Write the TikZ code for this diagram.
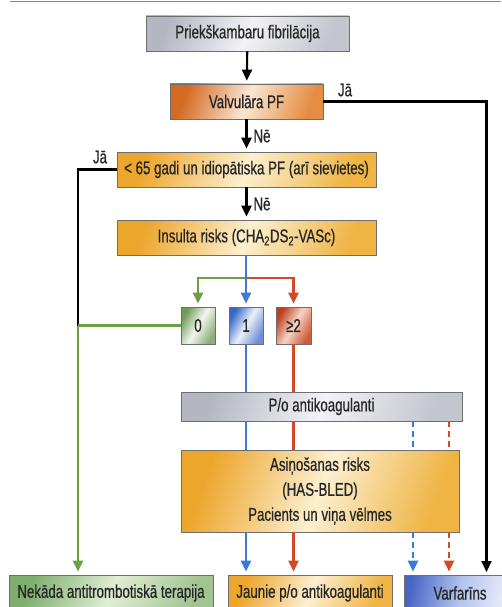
\documentclass[tikz,border=0pt]{standalone}
\usepackage{fontspec}
\setmainfont{Liberation Sans}[FakeStretch=0.72,FakeBold=0.6]
\usetikzlibrary{arrows.meta}
\definecolor{lnblue}{HTML}{3A7AD8}
\definecolor{lnred}{HTML}{D24A2A}
\definecolor{lngreen}{HTML}{6E9E46}
\definecolor{bdr}{HTML}{6E6E6E}
\definecolor{gyA}{HTML}{B4B7C2}\definecolor{gyB}{HTML}{F2F2F6}\definecolor{gyC}{HTML}{C4C6CE}
\definecolor{orA}{HTML}{D46A22}\definecolor{orB}{HTML}{FAE6D2}\definecolor{orC}{HTML}{E48E44}
\definecolor{yeA}{HTML}{EDA62C}\definecolor{yeB}{HTML}{FCEFD0}\definecolor{yeC}{HTML}{EFB444}
\definecolor{grA}{HTML}{6F9A58}\definecolor{grB}{HTML}{F2F6EE}\definecolor{grC}{HTML}{8EAE7C}
\definecolor{blA}{HTML}{3666C6}\definecolor{blB}{HTML}{EAF0FA}\definecolor{blC}{HTML}{6E8ED8}
\definecolor{rdA}{HTML}{BE3E1E}\definecolor{rdB}{HTML}{F6D4C4}\definecolor{rdC}{HTML}{CE5C3C}
\definecolor{lgA}{HTML}{7EAE6E}\definecolor{lgB}{HTML}{E0EED4}\definecolor{lgC}{HTML}{A2C492}
\definecolor{vbA}{HTML}{4866C6}\definecolor{vbB}{HTML}{B4C4EE}\definecolor{vbC}{HTML}{EEF0FA}
\begin{document}
\begin{tikzpicture}[x=1pt,y=-1pt,
  font=\fontsize{18.5}{22}\selectfont,
  box/.style={draw=bdr, line width=0.7pt, inner sep=0pt, align=center, text=black!85},
  graybox/.style={box, left color=gyA, right color=gyC, middle color=gyB, shading angle=70},
  orbox/.style={box, left color=orA, right color=orC, middle color=orB, shading angle=70},
  yebox/.style={box, left color=yeA, right color=yeC, middle color=yeB, shading angle=70},
  grbox/.style={box, left color=grA, right color=grC, middle color=grB, shading angle=60},
  blbox/.style={box, left color=blA, right color=blC, middle color=blB, shading angle=60},
  rdbox/.style={box, left color=rdA, right color=rdC, middle color=rdB, shading angle=60},
  lgbox/.style={box, left color=lgA, right color=lgC, middle color=lgB, shading angle=70},
  vbbox/.style={box, left color=vbA, right color=vbC, middle color=vbB, shading angle=80},
  lbl/.style={inner sep=0pt, text=black!85},
  conn/.style={line width=2.1pt},
  arr/.style={conn, -{Triangle[length=11pt,width=10pt]}, shorten >=3pt},
  dsh/.style={dash pattern=on 6pt off 4pt}
]
\useasboundingbox (0,0) rectangle (501,607);
\draw[black!45, line width=1pt] (10,1.5) -- (501,1.5);

% nodes
\node[graybox, minimum width=203pt, minimum height=35pt] (n1) at (247.5,33.5) {Priekškambaru fibrilācija};
\node[orbox, minimum width=153pt, minimum height=35pt] (n2) at (246.5,101.5) {Valvulāra PF};
\node[yebox, minimum width=259pt, minimum height=35pt] (n3) at (246.5,169.5) {< 65 gadi un idiopātiska PF (arī sievietes)};
\node[yebox, minimum width=259pt, minimum height=35pt] (n4) at (246.5,237.5) {Insulta risks (CHA\textsubscript{2}DS\textsubscript{2}-VASc)};
\node[grbox, minimum width=34pt, minimum height=37pt] (b0) at (198,325.5) {0};
\node[blbox, minimum width=34pt, minimum height=37pt] (b1) at (246,325.5) {1};
\node[rdbox, minimum width=35pt, minimum height=37pt] (b2) at (293.5,325.5) {≥2};
\node[graybox, minimum width=281pt, minimum height=29pt] (po) at (321.5,406.5) {P/o antikoagulanti};
\node[yebox, minimum width=278pt, minimum height=82pt] (as) at (320,491) {Asiņošanas risks\\[3pt](HAS-BLED)\\[3pt]Pacients un viņa vēlmes};
\node[lgbox, minimum width=204pt, minimum height=36pt] (nek) at (111,593) {Nekāda antitrombotiskā terapija};
\node[yebox, minimum width=164pt, minimum height=36pt] (jau) at (310,593) {Jaunie p/o antikoagulanti};
\node[vbbox, minimum width=112pt, minimum height=36pt] (var) at (460,593) {Varfarīns};

% labels
\node[lbl] (ja1) at (345,90) {Jā};
\node[lbl] (ne1) at (262,136) {Nē};
\node[lbl] (ja2) at (100,157) {Jā};
\node[lbl] (ne2) at (262,204) {Nē};

\coordinate (jn) at (78,325.5);
\coordinate (br) at (246,278);
\coordinate (vx) at (486.5,575);

% connectors
\draw[arr] (n1) -- (n2);
\draw[arr] (n2) -- (n3);
\draw[arr] (n3) -- (n4);
\draw[arr] (n2.east) -| (vx);
\draw[conn] (n3.west) -| (jn);
\draw[conn, lngreen] (b0.west) -- (jn);
\draw[arr, lngreen] (jn) -- (nek.north -| jn);
\draw[arr, lngreen] (br) -| (b0.north);
\draw[arr, lnred] (br) -| (b2.north);
\draw[arr, lnblue] (n4.south -| b1) -- (b1.north);
\draw[conn, lnblue] (b1.south) -- (po.north -| b1);
\draw[conn, lnred] (b2.south) -- (po.north -| b2);
\draw[conn, lnblue] (po.south -| b1) -- (as.north -| b1);
\draw[conn, lnred] (po.south -| b2) -- (as.north -| b2);
\coordinate (d1) at (413,0);
\coordinate (d2) at (449,0);
\draw[conn, lnblue, dsh] (po.south -| d1) -- (as.north -| d1);
\draw[conn, lnred, dsh] (po.south -| d2) -- (as.north -| d2);
\draw[arr, lnblue] (as.south -| b1) -- (jau.north -| b1);
\draw[arr, lnred] (as.south -| b2) -- (jau.north -| b2);
\draw[arr, lnblue, dsh] (as.south -| d1) -- (var.north -| d1);
\draw[arr, lnred, dsh] (as.south -| d2) -- (var.north -| d2);
\end{tikzpicture}
\end{document}
